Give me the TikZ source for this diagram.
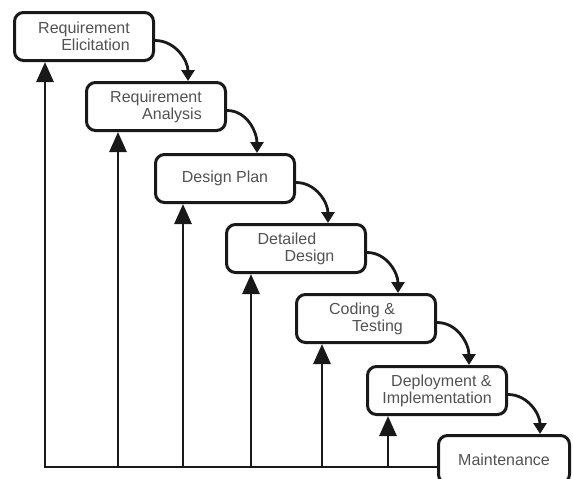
\documentclass[tikz,border=0pt]{standalone}
\usepackage{fontspec}
\setmainfont{Liberation Sans}
\usetikzlibrary{arrows.meta}
\begin{document}
\begin{tikzpicture}[x=1pt,y=-1pt,
  phase/.style={draw=black!90, line width=3pt, rounded corners=9pt,
    minimum width=139pt, minimum height=48pt, inner sep=0pt,
    text=black!68, font=\fontsize{16}{17}\selectfont, anchor=north west},
  flow/.style={draw=black!90, line width=2.8pt, -{Triangle[length=11pt,width=13pt]}},
  feedback/.style={draw=black!90, line width=2.8pt, line join=miter,
    -{Triangle[length=20pt,width=17pt]}}]
\useasboundingbox (0,0) rectangle (573,479);

% phases of the waterfall
\node[phase, align=right] (b1) at (13,11)   {Requirement\\Elicitation};
\node[phase, align=right] (b2) at (85,81)   {Requirement\\Analysis};
\node[phase]              (b3) at (154,153) {Design Plan};
\node[phase, align=left]  (b4) at (225,223) {Detailed\\\hspace*{27pt}Design};
\node[phase, align=left]  (b5) at (295,293) {Coding \&\\\hspace*{23pt}Testing};
\node[phase, align=right] (b6) at (366,365) {Deployment \&\\Implementation};
\node[phase, minimum width=131pt] (b7) at (437,434) {Maintenance};

% downward flow between consecutive phases
\draw[flow] ([yshift=-4pt]b1.east) to[out=0,in=90] ([xshift=103pt]b2.north west);
\draw[flow] ([yshift=-4pt]b2.east) to[out=0,in=90] ([xshift=103pt]b3.north west);
\draw[flow] ([yshift=-4pt]b3.east) to[out=0,in=90] ([xshift=103pt]b4.north west);
\draw[flow] ([yshift=-4pt]b4.east) to[out=0,in=90] ([xshift=103pt]b5.north west);
\draw[flow] ([yshift=-4pt]b5.east) to[out=0,in=90] ([xshift=103pt]b6.north west);
\draw[flow] ([yshift=-4pt]b6.east) to[out=0,in=90] ([xshift=103pt]b7.north west);

% feedback rail from maintenance back to every phase
\coordinate (r1) at (45,467);
\coordinate (r2) at (118,467);
\coordinate (r3) at (183,467);
\coordinate (r4) at (251,467);
\coordinate (r5) at (322,467);
\coordinate (r6) at (388,467);
\draw[feedback] (r1 -| b7.west) -- (r1) -- (r1 |- b1.south);
\draw[feedback] (r2) -- (r2 |- b2.south);
\draw[feedback] (r3) -- (r3 |- b3.south);
\draw[feedback] (r4) -- (r4 |- b4.south);
\draw[feedback] (r5) -- (r5 |- b5.south);
\draw[feedback] (r6) -- (r6 |- b6.south);
\end{tikzpicture}
\end{document}
